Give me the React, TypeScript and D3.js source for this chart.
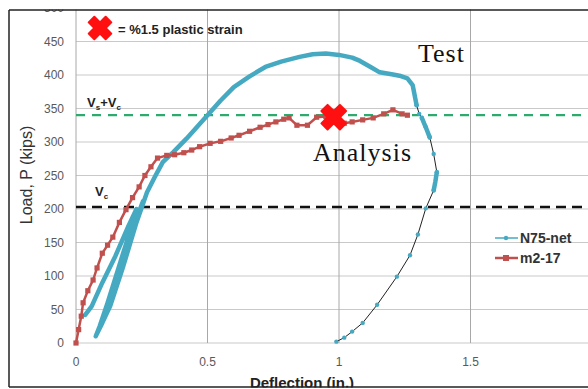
import * as d3 from "d3";

const W = 588;
const H = 389;

// axis ticks
const xTicks = [0, 0.5, 1, 1.5, 2];
const xTickLabels = [0, 0.5, 1, 1.5];
const yTicks = [0, 50, 100, 150, 200, 250, 300, 350, 400, 450, 500];

// reference loads (kips)
const vsPlusVc = 340;
const vc = 203;

// m2-17 analysis curve: [deflection in., load kips]
const m2Points: [number, number][] = [
  [0, 0], [0.01, 20], [0.02, 40], [0.027, 60], [0.045, 78], [0.065, 94],
  [0.08, 112], [0.1, 134], [0.12, 146], [0.14, 158], [0.165, 180], [0.19, 199],
  [0.215, 217], [0.24, 233], [0.262, 250], [0.285, 263], [0.31, 276], [0.345, 280],
  [0.375, 281], [0.41, 284], [0.44, 288], [0.47, 293], [0.51, 298], [0.55, 301],
  [0.59, 306], [0.62, 310], [0.66, 316], [0.7, 322], [0.73, 326], [0.76, 330],
  [0.79, 334], [0.81, 336], [0.84, 325], [0.88, 325], [0.915, 337], [0.95, 338],
  [0.98, 337], [1.02, 328], [1.05, 330], [1.09, 333], [1.13, 336], [1.17, 342],
  [1.205, 348], [1.24, 342], [1.26, 340],
];

// N75-net test curve, densely sampled part (cyclic loading + envelope)
const testDense: [number, number][] = [
  [0.035, 42], [0.06, 55], [0.1, 90], [0.15, 130], [0.2, 175], [0.23, 200],
  [0.2, 160], [0.16, 110], [0.12, 60], [0.09, 25], [0.075, 10],
  [0.1, 30], [0.14, 80], [0.18, 130], [0.22, 175], [0.255, 212],
  [0.22, 170], [0.17, 110], [0.13, 60], [0.1, 30],
  [0.13, 55], [0.18, 115], [0.23, 180], [0.27, 225], [0.3, 248], [0.33, 270],
  [0.37, 285], [0.42, 305], [0.5, 340], [0.55, 362], [0.6, 382], [0.66, 398],
  [0.72, 412], [0.78, 420], [0.85, 427], [0.9, 431], [0.95, 432], [1.0, 430],
  [1.05, 426], [1.08, 421], [1.12, 412], [1.155, 404], [1.2, 401], [1.23, 399],
  [1.26, 395], [1.28, 385], [1.295, 355],
];

// short dense stretches on the drop
const testDrop1: [number, number][] = [[1.315, 336], [1.33, 322], [1.345, 307]];
const testDrop2: [number, number][] = [[1.372, 255], [1.366, 240], [1.36, 228]];

// N75-net sparse descending part
const testTail: [number, number][] = [
  [1.295, 355], [1.305, 342], [1.315, 336], [1.33, 322], [1.345, 307], [1.36, 282],
  [1.372, 255], [1.36, 228], [1.33, 201], [1.3, 162], [1.27, 131], [1.22, 99],
  [1.145, 57], [1.09, 30], [1.05, 17], [1.02, 8], [0.99, 2],
];

// 1.5% plastic strain point
const strainPoint: [number, number] = [0.98, 337];

const BLUE = "#45a9c2";
const RED = "#c0504d";
const TICK = "#595959";

export default function App() {
  const x = d3.scaleLinear().domain([0, 2]).range([76, 602]);
  const y = d3.scaleLinear().domain([0, 500]).range([343, 8]);

  const line = d3
    .line<[number, number]>()
    .x((d) => x(d[0]))
    .y((d) => y(d[1]));

  const cross = (size: number) => d3.symbol(d3.symbolCross, size)() || "";

  return (
    <svg
      width={W}
      height={H}
      style={{ position: "absolute", left: 0, top: 0, background: "#fff" }}
      fontFamily="Liberation Sans, Arial, sans-serif"
    >
      {/* grid */}
      {yTicks.map((t) => (
        <line key={"gy" + t} x1={x(0)} x2={W} y1={y(t)} y2={y(t)} stroke="#c9c9c9" strokeWidth={1} />
      ))}
      {xTicks.map((t) => (
        <line key={"gx" + t} x1={x(t)} x2={x(t)} y1={y(0)} y2={y(500)} stroke="#a8a8a8" strokeWidth={1} />
      ))}

      {/* tick labels */}
      {yTicks.map((t) => (
        <text key={"ty" + t} x={64} y={y(t)} dy="0.35em" textAnchor="end" fontSize={12} fill={TICK}>
          {t}
        </text>
      ))}
      {xTickLabels.map((t) => (
        <text key={"tx" + t} x={x(t)} y={366} textAnchor="middle" fontSize={12} fill={TICK}>
          {t}
        </text>
      ))}

      {/* reference lines */}
      <line x1={x(0)} x2={W} y1={y(vsPlusVc)} y2={y(vsPlusVc)} stroke="#2eaa6e" strokeWidth={2.2} strokeDasharray="9,7" />
      <line x1={x(0)} x2={W} y1={y(vc)} y2={y(vc)} stroke="#111" strokeWidth={2.5} strokeDasharray="10,6" />
      <text x={87} y={107} fontSize={13} fontWeight="bold" fill="#222">
        V<tspan fontSize={8} dy={3}>s</tspan>
        <tspan dy={-3}>+V</tspan>
        <tspan fontSize={8} dy={3}>c</tspan>
      </text>
      <text x={95} y={196} fontSize={13} fontWeight="bold" fill="#222">
        V<tspan fontSize={8} dy={3}>c</tspan>
      </text>

      {/* test curve */}
      <path d={line(testTail) || ""} fill="none" stroke="#222" strokeWidth={1} />
      {testTail.map((d, i) => (
        <circle key={"tt" + i} cx={x(d[0])} cy={y(d[1])} r={2.2} fill={BLUE} />
      ))}
      {[testDense, testDrop1, testDrop2].map((seg, i) => (
        <path
          key={"td" + i}
          d={line(seg) || ""}
          fill="none"
          stroke={BLUE}
          strokeWidth={4.5}
          strokeLinejoin="round"
          strokeLinecap="round"
        />
      ))}

      {/* analysis curve */}
      <path d={line(m2Points) || ""} fill="none" stroke={RED} strokeWidth={2.5} />
      {m2Points.map((d, i) => (
        <rect key={"m" + i} x={x(d[0]) - 2.6} y={y(d[1]) - 2.6} width={5.2} height={5.2} fill={RED} />
      ))}

      {/* plastic strain marker */}
      <path
        d={cross(380)}
        transform={`translate(${x(strainPoint[0])},${y(strainPoint[1])}) rotate(45)`}
        fill="#ff1010"
        stroke="#ff1010"
        strokeWidth={2}
        strokeLinejoin="round"
      />

      {/* annotations */}
      <path d={cross(320)} transform="translate(100,28) rotate(45)" fill="#ff1010" stroke="#ff1010" strokeWidth={2} strokeLinejoin="round" />
      <text x={118} y={34} fontSize={13} fontWeight="bold" fill="#222">
        = %1.5 plastic strain
      </text>
      <text x={418} y={62} fontSize={26} fontFamily="Liberation Serif, Times New Roman, serif" letterSpacing={1} fill="#111">
        Test
      </text>
      <text x={313} y={161} fontSize={26} fontFamily="Liberation Serif, Times New Roman, serif" letterSpacing={1} fill="#111">
        Analysis
      </text>

      {/* legend */}
      <line x1={495} x2={518} y1={238} y2={238} stroke={BLUE} strokeWidth={1.5} />
      <circle cx={506} cy={238} r={2.2} fill={BLUE} />
      <text x={520} y={243} fontSize={14} fontWeight="bold" fill="#333">
        N75-net
      </text>
      <line x1={495} x2={518} y1={258} y2={258} stroke={RED} strokeWidth={2.5} />
      <rect x={503} y={255} width={6} height={6} fill={RED} />
      <text x={520} y={263} fontSize={14} fontWeight="bold" fill="#333">
        m2-17
      </text>

      {/* axis titles */}
      <text transform="translate(32,175) rotate(-90)" textAnchor="middle" fontSize={16} fill="#333">
        Load, P (kips)
      </text>
      <text x={302} y={387.5} textAnchor="middle" fontSize={15} fontWeight="bold" fill="#222">
        Deflection (in.)
      </text>

      {/* frame (the picture is cropped at top and bottom) */}
      <rect x={0} y={0} width={W} height={9.5} fill="#fff" />
      <rect x={0} y={387.5} width={W} height={2} fill="#fff" />
      <line x1={9} x2={W} y1={10} y2={10} stroke="#222" strokeWidth={1.5} />
      <line x1={9} x2={9} y1={10} y2={387} stroke="#222" strokeWidth={1.5} />
      <line x1={9} x2={W} y1={387} y2={387} stroke="#222" strokeWidth={1.5} />
    </svg>
  );
}
